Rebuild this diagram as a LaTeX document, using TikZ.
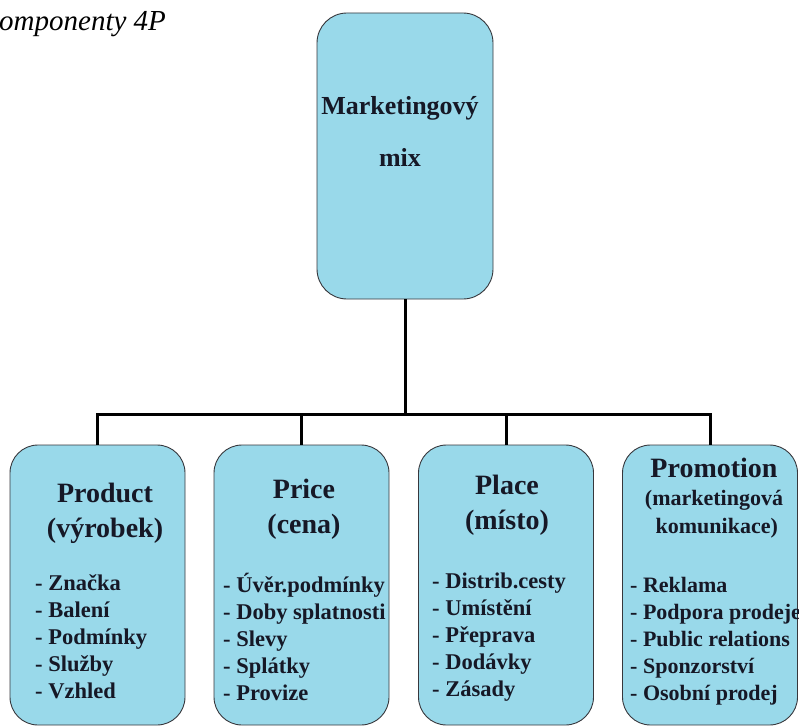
\documentclass[tikz,border=0pt]{standalone}
\usepackage{fontspec}
\setmainfont{Liberation Serif}
\usepackage{xcolor}
\definecolor{BoxBlue}{RGB}{153,217,234}
\definecolor{BoxLine}{RGB}{55,55,60}
\definecolor{TextInk}{RGB}{22,24,38}

\begin{document}
\begin{tikzpicture}[line cap=round,line join=round,x=1pt,y=-1pt,
  box/.style={draw=BoxLine,line width=0.9pt,fill=BoxBlue,rounded corners=28pt,
    inner sep=0pt,minimum width=175pt,minimum height=280pt},
  conn/.style={line width=3pt,line cap=butt,line join=miter},
  head/.style={text=TextInk,font=\bfseries\fontsize{28}{35}\selectfont,
    align=center,anchor=base,inner sep=0pt},
  item/.style={text=TextInk,font=\bfseries\fontsize{22.5}{27}\selectfont,
    align=left,anchor=base west,inner sep=0pt}]
  \useasboundingbox (0,0) rectangle (799,727);
  \node[anchor=base west,inner sep=0pt,font=\itshape\fontsize{29}{34}\selectfont]
    (title) at (-1,31) {omponenty 4P};
  % boxes
  \node[box,minimum width=176pt,minimum height=286pt,rounded corners=30pt] (mix) at (405,156) {};
  \node[box] (product) at (97.5,585) {};
  \node[box] (price) at (301.5,585) {};
  \node[box] (place) at (506,585) {};
  \node[box] (promotion) at (710,585) {};
  % connectors
  \coordinate (bus) at (405,414);
  \draw[conn] (mix.south) -- (bus);
  \draw[conn] (product.north) |- (bus) -| (promotion.north);
  \draw[conn] (price.north) -- (price.north |- bus);
  \draw[conn] (place.north) -- (place.north |- bus);
  % texts (anchored at the baseline of the last line)
  \node[head,font=\bfseries\fontsize{26}{52}\selectfont] (mixtext) at (400,167) {Marketingový\\mix};
  \node[head] (producthead) at (105,537) {Product\\(výrobek)};
  \node[head] (pricehead) at (304,533) {Price\\(cena)};
  \node[head] (placehead) at (507,529) {Place\\(místo)};
  \node[head] (promotionhead) at (714,477) {Promotion};
  \node[head,font=\bfseries\fontsize{22}{28}\selectfont] (promotionsub) at (714,533)
    {(marketingová\\\ komunikace)};
  \node[item] (productitems) at (35,698) {- Značka\\- Balení\\- Podmínky\\- Služby\\- Vzhled};
  \node[item] (priceitems) at (223,700) {- Úvěr.podmínky\\- Doby splatnosti\\- Slevy\\- Splátky\\- Provize};
  \node[item] (placeitems) at (432,696) {- Distrib.cesty\\- Umístění\\- Přeprava\\- Dodávky\\- Zásady};
  \node[item,font=\bfseries\fontsize{22}{27}\selectfont] (promotionitems) at (630,700) {- Reklama\\- Podpora prodeje\\- Public relations\\- Sponzorství\\- Osobní prodej};
\end{tikzpicture}
\end{document}
